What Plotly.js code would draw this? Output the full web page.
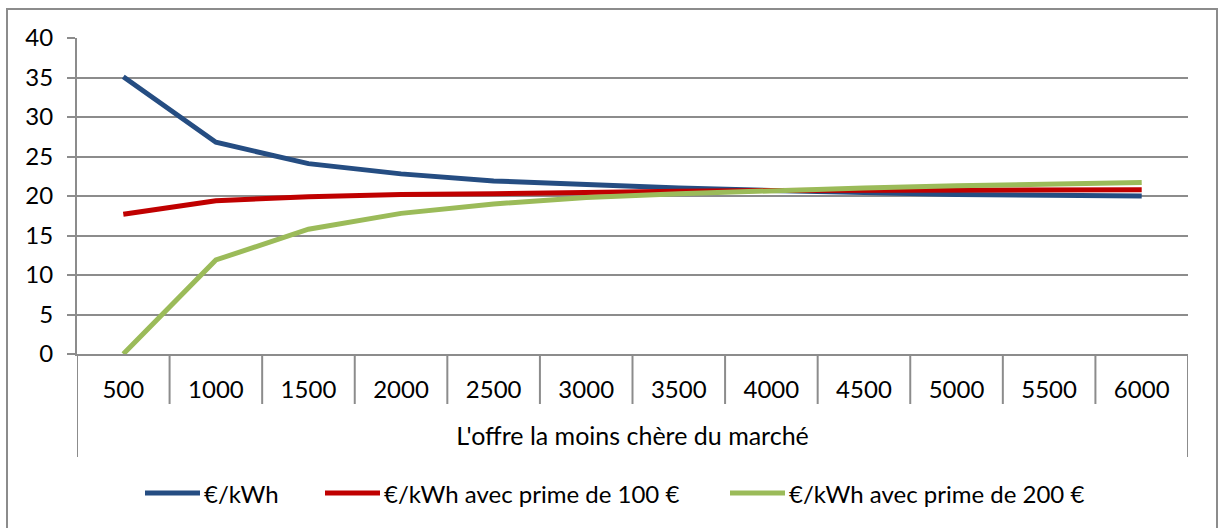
<!DOCTYPE html>
<html><head><meta charset="utf-8">
<script src="https://cdn.plot.ly/plotly-3.0.1.min.js"></script>
<style>html,body{margin:0;padding:0;background:#fff}#chart{width:1225px;height:528px}</style>
</head><body><div id="chart"></div>
<script>
const categories = ['500','1000','1500','2000','2500','3000','3500','4000','4500','5000','5500','6000'];
const seriesNames = ['€/kWh', '€/kWh avec prime de 100 €', '€/kWh avec prime de 200 €'];
const prixKwh      = [35.1, 26.8, 24.1, 22.8, 21.9, 21.4, 21.0, 20.7, 20.4, 20.2, 20.1, 20.0];
const prixPrime100 = [17.7, 19.4, 19.9, 20.2, 20.3, 20.5, 20.6, 20.7, 20.7, 20.8, 20.8, 20.8];
const prixPrime200 = [0.0, 11.9, 15.8, 17.8, 19.0, 19.8, 20.3, 20.7, 21.0, 21.3, 21.5, 21.7];
const yTickValues = [0, 5, 10, 15, 20, 25, 30, 35, 40];
const xAxisTitle = "L'offre la moins chère du marché";

const colors = ['#254D82', '#C00000', '#9BBB59'];
const seriesValues = [prixKwh, prixPrime100, prixPrime200];
const FONT = 'Lato, "Open Sans", sans-serif';
const FS = 24;
const GRID = '#8C8C8C';

// plot area in pixels
const W = 1225, H = 528, L = 77, R = 37, T = 38, B = 174;
const PW = W - L - R, PH = H - T - B;
const px = x => (x - L) / PW;          // pixel x -> paper x
const py = y => (H - B - y) / PH;      // pixel y -> paper y

const traces = seriesValues.map((vals, i) => ({
  type: 'scatter', mode: 'lines', x: categories, y: vals, name: seriesNames[i],
  line: {color: colors[i], width: 5}, hoverinfo: 'skip', showlegend: false
}));

const shapes = [];
// category divider lines (Excel-style box under the plot)
for (let k = 0; k <= categories.length; k++) {
  const edge = (k === 0 || k === categories.length);
  shapes.push({type: 'line', xref: 'x', yref: 'paper', x0: k - 0.5, x1: k - 0.5,
    y0: 0, y1: edge ? py(457) : py(404), line: {color: GRID, width: 2}});
}
// outer chart border
shapes.push({type: 'rect', xref: 'paper', yref: 'paper',
  x0: px(7), x1: px(1217), y0: py(540), y1: py(9), line: {color: GRID, width: 2}, layer: 'below'});

// manual legend (Excel-like spacing)
const legendLineX = [145, 325, 730];
const legendY = 493;
const annotations = [];
seriesNames.forEach((name, i) => {
  shapes.push({type: 'line', xref: 'paper', yref: 'paper',
    x0: px(legendLineX[i]), x1: px(legendLineX[i] + 55), y0: py(legendY), y1: py(legendY),
    line: {color: colors[i], width: 5}});
  annotations.push({xref: 'paper', yref: 'paper', x: px(legendLineX[i] + 57), y: py(legendY),
    xanchor: 'left', yanchor: 'middle', showarrow: false, text: name,
    font: {family: FONT, size: FS, color: '#000'}});
});

const layout = {
  width: W, height: H,
  margin: {l: L, r: R, t: T, b: B},
  paper_bgcolor: '#fff', plot_bgcolor: '#fff',
  font: {family: FONT, size: FS, color: '#000'},
  showlegend: false,
  xaxis: {type: 'category', range: [-0.5, categories.length - 0.5], showgrid: false,
    showline: true, linecolor: GRID, linewidth: 2, ticks: '', ticklabelstandoff: 13,
    tickfont: {family: FONT, size: FS, color: '#000'}, zeroline: false, fixedrange: true,
    title: {text: xAxisTitle, font: {family: FONT, size: 25, color: '#000'}, standoff: 26}},
  yaxis: {range: [0, 40], tickvals: yTickValues, ticktext: yTickValues.map(String),
    showgrid: true, gridcolor: GRID, gridwidth: 2, showline: true, linecolor: GRID, linewidth: 2,
    ticks: 'outside', ticklen: 8, tickwidth: 2, tickcolor: GRID, ticklabelstandoff: 9,
    zeroline: false, fixedrange: true, tickfont: {family: FONT, size: FS, color: '#000'}},
  shapes: shapes,
  annotations: annotations
};
Plotly.newPlot('chart', traces, layout, {displayModeBar: false, staticPlot: true});
</script></body></html>
